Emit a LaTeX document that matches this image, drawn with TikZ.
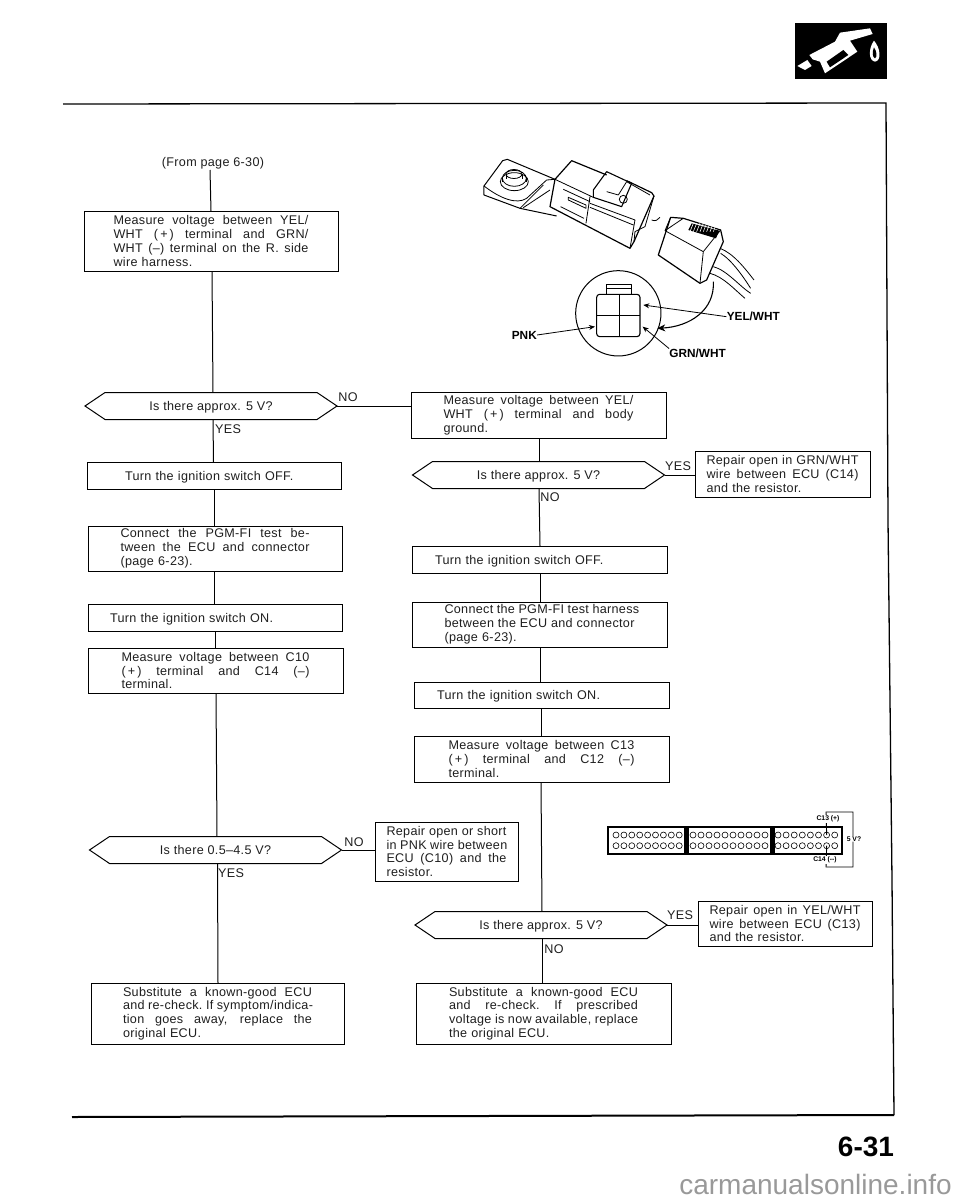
\documentclass[tikz,border=0pt]{standalone}
\usepackage{fontspec}
\setmainfont[LetterSpace=2.5]{Liberation Sans}
\newfontfamily\plainf{Liberation Sans}
\usetikzlibrary{shapes.symbols,arrows.meta}
\newcommand{\jl}[1]{\leavevmode\hbox to\hsize{\spaceskip=.28em plus 1fil\xspaceskip=\spaceskip #1}}
\tikzset{
 txt/.style={font=\fontsize{12.6}{13.8}\selectfont,text=black!88},
 flowbox/.style={draw,line width=1pt,inner sep=0pt,outer sep=0pt,txt,align=left},
 one/.style={text height=9pt,text depth=0pt},
 hexa/.style={draw,line width=1pt,shape=signal,signal from=west,signal to=east and west,signal pointer angle=68,minimum width=252pt,minimum height=27pt,inner sep=0pt,outer sep=0pt,txt,one},
 flow/.style={line width=1pt},
 lab/.style={txt,inner sep=0pt,one},
 wirelab/.style={font=\plainf\bfseries\fontsize{11.8}{13}\selectfont,inner sep=0pt},
 panlab/.style={font=\plainf\bfseries\fontsize{6.8}{8}\selectfont,fill=white,inner sep=0.4pt},
 ill/.style={line width=0.8pt,line join=round},
 arr/.style={line width=0.8pt,-{Stealth[length=6pt,width=5pt]}},
 pin/.style={draw,line width=0.6pt,circle,minimum size=6pt,inner sep=0pt}
}
\begin{document}
\begin{tikzpicture}[x=1pt,y=-1pt]
\useasboundingbox (0,0) rectangle (960,1200);
\fill[white] (0,0) rectangle (960,1200);
% frame
\coordinate (fa) at (63,104); \coordinate (fb) at (886,103); \coordinate (fb2) at (888,520); \coordinate (fb3) at (892,880); \coordinate (fc) at (894,1115); \coordinate (fd) at (72,1117);
\draw[line width=1.3pt] (fa)--(fb)--(fb2)--(fb3)--(fc);
\draw[line width=2pt] (fc)--(fd);
% left column
\node[lab] (from) at (213,162) {(From page 6-30)};
\node[flowbox,minimum width=254pt,minimum height=60pt,text width=195pt] (l1) at (211,241) {\jl{Measure voltage between YEL/}\\\jl{WHT (\,+\,) terminal and GRN/}\\\jl{WHT (--) terminal on the R. side}\\wire harness.};
\node[hexa] (l2) at (211,406) {Is there approx. 5 V?};
\node[flowbox,one,minimum width=254pt,minimum height=27pt,text width=178pt] (l3) at (214,475.5) {Turn the ignition switch OFF.};
\node[flowbox,minimum width=254pt,minimum height=45pt,text width=189pt] (l4) at (215,548.5) {\jl{Connect the PGM-FI test be-}\\\jl{tween the ECU and connector}\\(page 6-23).};
\node[flowbox,one,minimum width=254pt,minimum height=27pt,text width=210pt] (l5) at (215,617.5) {Turn the ignition switch ON.};
\node[flowbox,minimum width=255pt,minimum height=45pt,text width=188pt] (l6) at (215.5,670.5) {\jl{Measure voltage between C10}\\\jl{(\,+\,) terminal and C14 (--)}\\terminal.};
\node[hexa] (l7) at (215.5,850) {Is there 0.5--4.5 V?};
\node[flowbox,minimum width=253pt,minimum height=61pt,text width=189pt] (l8) at (217.5,1013.5) {\jl{Substitute a known-good ECU}\\\jl{and re-check. If symptom/indica-}\\\jl{tion goes away, replace the}\\original ECU.};
\node[flowbox,minimum width=143pt,minimum height=59pt,text width=120pt] (r8) at (446.5,851.5) {\jl{Repair open or short}\\\jl{in PNK wire between}\\\jl{ECU (C10) and the}\\resistor.};
% right column
\node[flowbox,minimum width=255pt,minimum height=46pt,text width=190pt] (r1) at (538.5,415) {\jl{Measure voltage between YEL/}\\\jl{WHT (\,+\,) terminal and body}\\ground.};
\node[hexa] (r2) at (538.5,475) {Is there approx. 5 V?};
\node[flowbox,minimum width=175pt,minimum height=46pt,text width=152pt] (r3) at (782.5,474) {\jl{Repair open in GRN/WHT}\\\jl{wire between ECU (C14)}\\and the resistor.};
\node[flowbox,one,minimum width=255pt,minimum height=27pt,text width=209pt] (r4) at (539.5,559.5) {Turn the ignition switch OFF.};
\node[flowbox,minimum width=255pt,minimum height=45pt,text width=190pt] (r5) at (539.5,624.5) {\jl{Connect the PGM-FI test harness}\\\jl{between the ECU and connector}\\(page 6-23).};
\node[flowbox,one,minimum width=255pt,minimum height=26pt,text width=209pt] (r6) at (541.5,695) {Turn the ignition switch ON.};
\node[flowbox,minimum width=255pt,minimum height=46pt,text width=186pt] (r7) at (541.5,759) {\jl{Measure voltage between C13}\\\jl{(\,+\,) terminal and C12 (--)}\\terminal.};
\node[hexa] (r9) at (541,925) {Is there approx. 5 V?};
\node[flowbox,minimum width=174pt,minimum height=45pt,text width=151pt] (r10) at (785,923.5) {\jl{Repair open in YEL/WHT}\\\jl{wire between ECU (C13)}\\and the resistor.};
\node[flowbox,minimum width=255pt,minimum height=61pt,text width=189pt] (r11) at (543.5,1013.5) {\jl{Substitute a known-good ECU}\\\jl{and re-check. If prescribed}\\\jl{voltage is now available, replace}\\the original ECU.};
% connectors
\coordinate (fromb) at (210,170);
\foreach \a/\b/\xa/\xb in {fromb/l1/210/211,l1/l2/212/213,l2/l3/213/213.5,l3/l4/214/214,l4/l5/214.5/214.5,l5/l6/215/215,l6/l7/216/217,l7/l8/217.5/218,
  r1/r2/539/539,r2/r4/539/540,r4/r5/540/540,r5/r6/540.5/540.5,r6/r7/541/541,r7/r9/541/542,r9/r11/542.5/542.5}{
  \draw[flow] (\a.south -| \xa,0)--(\b.north -| \xb,0);}
\draw[flow] (l2.east)--(r1.west |- l2.east);
\draw[flow] (l7.east)--(r8.west |- l7.east);
\draw[flow] (r2.east)--(r3.west |- r2.east);
\draw[flow] (r9.east)--(r10.west |- r9.east);
\node[lab] (n1) at (348,397) {NO};
\node[lab] (y1) at (228,429) {YES};
\node[lab] (y2) at (678,466) {YES};
\node[lab] (n2) at (550,497) {NO};
\node[lab] (n3) at (354,842) {NO};
\node[lab] (y3) at (231,873) {YES};
\node[lab] (y4) at (680,915) {YES};
\node[lab] (n4) at (554,949) {NO};
% connector panel
\node[draw,line width=1.1pt,minimum width=234pt,minimum height=27pt,inner sep=0pt] (panel) at (725,840.5) {};
\fill (684,827) rectangle (689,854);
\fill (770,827) rectangle (775,854);
\foreach \x in {0,...,8}{\node[pin] at (616+\x*7.9,835) {}; \node[pin] at (616+\x*7.9,845.7) {};}
\foreach \x in {0,...,9}{\node[pin] at (693+\x*8,835) {}; \node[pin] at (693+\x*8,845.7) {};}
\foreach \x in {0,...,7}{\node[pin] at (778+\x*8.1,835) {}; \node[pin] at (778+\x*8.1,845.7) {};}
\node[font=\plainf\bfseries\fontsize{6.8}{8}\selectfont,inner sep=0pt] (fv) at (854,839) {5 V?};
\coordinate (pa) at (826.7,835); \coordinate (pb) at (826.7,845.7);
\draw[line width=0.9pt] (pa)--(826,812)--(853,812)--(fv.north -| 853,0);
\draw[line width=0.9pt] (pb)--(826,867)--(853,867)--(fv.south -| 853,0);
\node[panlab] (c13) at (828,819) {C13 (+)};
\node[panlab] (c14) at (825,860) {C14 (--)};
% illustration
\begin{scope}[shift={(430,110)},x=0.3333pt,y=-0.3333pt,line width=0.8pt]
\draw[ill,line width=1pt] (375,208)--(232,148)--(218,152)--(162,228)--(162,255)--(270,295)--(380,318);
\draw[ill] (162,228) .. controls (210,265) and (260,285) .. (290,265) -- (350,210)--(375,208);
\draw[ill] (270,295)--(340,225) (280,293)--(360,240);
\draw[ill] (253,215) ellipse (14pt and 9pt);
\draw[ill] (253,205) ellipse (12pt and 8pt);
\draw[ill] (217,205)--(217,215) (289,205)--(289,215);
\draw[ill] (252,192) ellipse (8pt and 4.5pt);
\draw[ill] (228,192)--(228,207) (276,192)--(276,207);
\draw[ill,line width=1.2pt] (375,208)--(425,152)--(530,195) (375,208)--(360,290)--(600,415)--(612,395)--(672,258)--(665,248)--(590,212);
\draw[ill] (375,208)--(490,262) (400,238)--(480,275) (415,270)--(468,295)--(468,285)--(415,262)--(415,270) (392,290)--(462,325) (480,260)--(468,340);
\draw[ill,line width=1.1pt] (490,240)--(530,185)--(605,220)--(575,290)--(490,262)--(490,240);
\draw[ill] (530,245)--(565,255) (565,255)--(590,215) (590,215)--(660,255);
\draw[ill] (480,280)--(615,330)--(600,415) (480,292)--(610,345);
\draw[ill] (580,268) circle (4pt);
\draw[ill] (612,395)--(615,365)--(645,350)--(672,258);
\draw[ill] (665,330) .. controls (675,335) and (685,330) .. (690,322);
% small connector
\draw[ill,line width=1.2pt] (722,322)--(685,435)--(810,520)--(830,510)--(880,395)--(872,360)--(760,325)--(722,322);
\draw[ill] (705,362)--(722,322) (705,362)--(820,425)--(810,520) (705,362)--(760,325) (820,425)--(872,360);
\fill (785,340)--(868,362)--(858,385)--(775,360)--cycle;
\foreach \k in {0,...,7}{\draw[white,line width=0.6pt] (790+\k*10,340)--(780+\k*10,365);}
\draw[ill] (870,415) .. controls (910,430) and (945,475) .. (972,510);
\draw[ill] (872,430) .. controls (905,450) and (940,500) .. (962,535);
\draw[ill] (850,470) .. controls (890,480) and (930,530) .. (962,550);
\draw[ill] (840,490) .. controls (880,500) and (915,540) .. (945,565);
% round view
\node[draw,line width=1pt,circle,minimum size=85.3pt,inner sep=0pt] (view) at (565,610) {};
\draw[ill,line width=1.1pt,rounded corners=3pt] (500,553) rectangle (630,680);
\draw[ill] (530,553)--(530,522)--(603,522)--(603,553) (530,535)--(603,535);
\draw[ill] (567,553)--(567,680) (500,617)--(630,617);
\draw[ill,line width=1.1pt,-{Stealth[length=8pt,width=7pt]}] (850,515) .. controls (855,600) and (780,650) .. (682,655);
\node[wirelab] (yw) at (970,620) {YEL/WHT};
\node[wirelab] (pk) at (283,675) {PNK};
\node[wirelab] (gw) at (803,730) {GRN/WHT};
\draw[arr] (yw.west)--(640,585);
\draw[arr] (pk.east)--(495,650);
\draw[arr] (gw.north west)--(638,650);
\end{scope}
% gas icon
\begin{scope}[shift={(770,10)},x=0.3333pt,y=-0.3333pt]
\fill (75,38) rectangle (352,207);
\fill[white] (82,168)--(112,150)--(125,168)--(105,180)--cycle;
\fill[white] (118,135)--(195,95)--(210,68)--(300,55)--(308,72)--(240,92)--(262,125)--(165,190)--(150,155)--(128,148)--cycle;
\fill (170,155)--(220,120)--(235,135)--(180,172)--cycle;
\fill[white] (312,92) .. controls (295,115) and (295,152) .. (315,155) .. controls (335,152) and (332,115) .. (312,92)--cycle;
\fill (312,112) .. controls (306,125) and (307,143) .. (315,145) .. controls (323,140) and (320,124) .. (312,112)--cycle;
\end{scope}
\node[font=\plainf\bfseries\fontsize{28}{30}\selectfont,inner sep=0pt] (pg) at (866,1147) {6-31};
\node[font=\plainf\fontsize{28}{30}\selectfont,text=black!40,inner sep=0pt] (wm) at (815.5,1184) {carmanualsonline.info};
\end{tikzpicture}
\end{document}
